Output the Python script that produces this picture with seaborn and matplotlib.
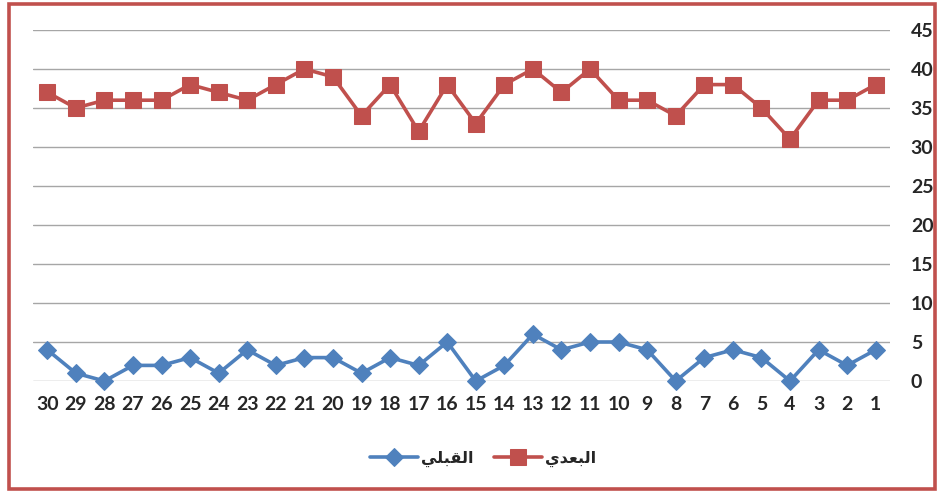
import matplotlib
matplotlib.use("Agg")
import matplotlib.pyplot as plt
import seaborn as sns
import pandas as pd
from matplotlib.patches import Rectangle

# ---- data ----
categories = ["30", "29", "28", "27", "26", "25", "24", "23", "22", "21",
              "20", "19", "18", "17", "16", "15", "14", "13", "12", "11",
              "10", "9", "8", "7", "6", "5", "4", "3", "2", "1"]
after_vals = [37, 35, 36, 36, 36, 38, 37, 36, 38, 40, 39, 34, 38, 32, 38,
              33, 38, 40, 37, 40, 36, 36, 34, 38, 38, 35, 31, 36, 36, 38]
before_vals = [4, 1, 0, 2, 2, 3, 1, 4, 2, 3, 3, 1, 3, 2, 5,
               0, 2, 6, 4, 5, 5, 4, 0, 3, 4, 3, 0, 4, 2, 4]
series_names = ["القبلي", "البعدي"]
y_ticks = [0, 5, 10, 15, 20, 25, 30, 35, 40, 45]

# ---- minimal Arabic shaping for display (matplotlib has no shaping) ----
FORMS = {  # isolated, final, initial, medial
    "ا": ("\uFE8D", "\uFE8E", None, None),
    "ل": ("\uFEDD", "\uFEDE", "\uFEDF", "\uFEE0"),
    "ب": ("\uFE8F", "\uFE90", "\uFE91", "\uFE92"),
    "ع": ("\uFEC9", "\uFECA", "\uFECB", "\uFECC"),
    "د": ("\uFEA9", "\uFEAA", None, None),
    "ي": ("\uFEF1", "\uFEF2", "\uFEF3", "\uFEF4"),
    "ق": ("\uFED5", "\uFED6", "\uFED7", "\uFED8"),
}


def shape(word):
    out = []
    n = len(word)
    for i, ch in enumerate(word):
        f = FORMS.get(ch)
        if f is None:
            out.append(ch)
            continue
        prev_joins = i > 0 and FORMS.get(word[i - 1]) is not None and FORMS[word[i - 1]][2] is not None
        next_joins = i < n - 1 and FORMS.get(word[i + 1]) is not None and f[2] is not None
        if prev_joins and next_joins:
            out.append(f[3])
        elif prev_joins:
            out.append(f[1])
        elif next_joins:
            out.append(f[2])
        else:
            out.append(f[0])
    return "".join(reversed(out))


pos = list(range(len(categories)))
df = pd.DataFrame({
    "pos": pos * 2,
    "value": before_vals + after_vals,
    "series": [series_names[0]] * len(pos) + [series_names[1]] * len(pos),
})

sns.set_style("white")
plt.rcParams["font.family"] = ["Lato", "DejaVu Sans"]

fig = plt.figure(figsize=(9.4, 4.93), dpi=100)
ax = fig.add_axes([33 / 940, 1 - 381 / 493, (890 - 33) / 940, (381 - 30) / 493])

blue = "#4F81BD"
red = "#C0504D"

sns.lineplot(data=df[df.series == series_names[0]], x="pos", y="value", ax=ax,
             color=blue, linewidth=2.6, marker="D", markersize=9.5,
             markeredgecolor=blue, clip_on=False, zorder=4,
             label=shape(series_names[0]))
sns.lineplot(data=df[df.series == series_names[1]], x="pos", y="value", ax=ax,
             color=red, linewidth=2.6, marker="s", markersize=11,
             markeredgecolor=red, clip_on=False, zorder=4,
             label=shape(series_names[1]))

ax.set_xlim(-0.5, len(categories) - 0.5)
ax.set_ylim(0, 45)
ax.set_xticks(pos)
ax.set_xticklabels(categories)
ax.set_yticks(y_ticks)
ax.yaxis.tick_right()
ax.tick_params(axis="y", length=0, pad=15, labelsize=14)
ax.tick_params(axis="x", length=0, pad=11, labelsize=14)
for lab in ax.get_xticklabels() + ax.get_yticklabels():
    lab.set_fontweight("bold")
for lab in ax.get_yticklabels():
    lab.set_horizontalalignment("left")
ax.set_xlabel("")
ax.set_ylabel("")
ax.grid(axis="y", color="#A6A6A6", linewidth=1.0)
ax.set_axisbelow(True)
for s in ax.spines.values():
    s.set_visible(False)

leg = ax.legend(loc="center", bbox_to_anchor=(483 / 940, 1 - 459 / 493),
                bbox_transform=fig.transFigure, ncol=2, frameon=False,
                handlelength=3.0, columnspacing=1.3, handletextpad=0.2,
                prop={"family": ["DejaVu Sans"], "weight": "bold", "size": 11.5})

fig.patches.append(Rectangle((9 / 940, 4 / 493), 926 / 940, 485 / 493,
                             transform=fig.transFigure, fill=False,
                             edgecolor=red, linewidth=2.6))

fig.savefig("out.png", dpi=100)
